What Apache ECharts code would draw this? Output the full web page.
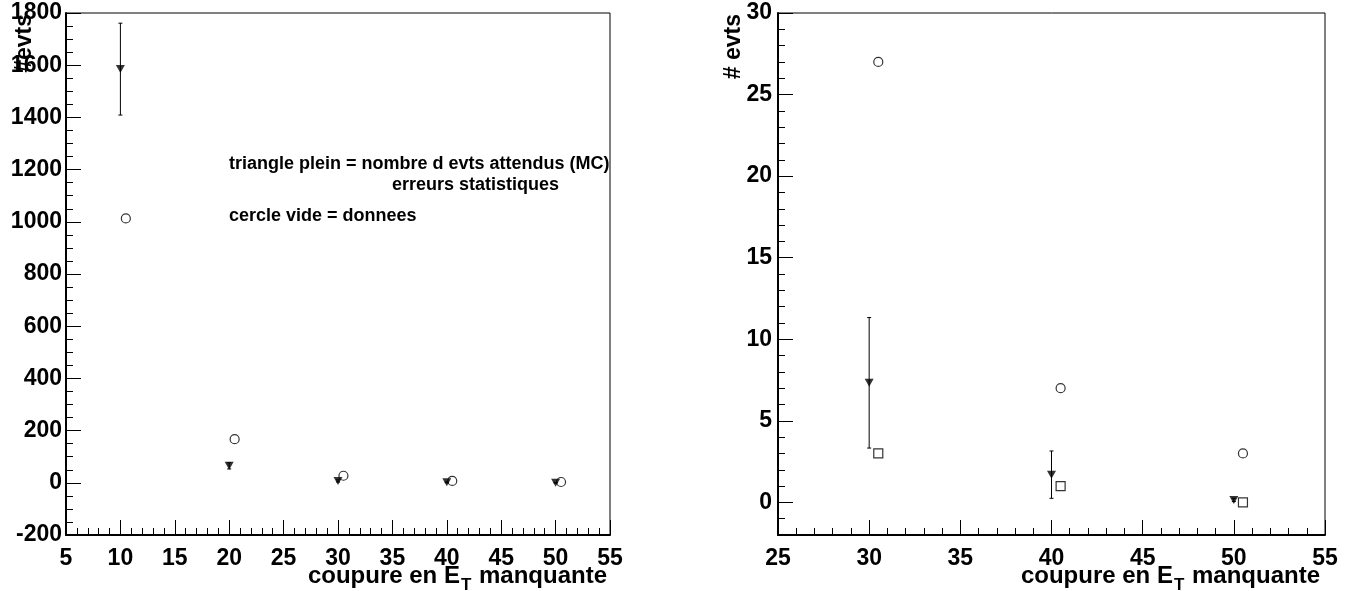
<!DOCTYPE html>
<html><head><meta charset="utf-8">
<script src="https://cdn.jsdelivr.net/npm/echarts@6/dist/echarts.min.js"></script>
<style>html,body{margin:0;padding:0;background:#fff}#c{width:1352px;height:591px}</style>
</head><body><div id="c"></div>
<script>
// ---- data ----
const leftMcX = [10, 20, 30, 40, 50];
const leftMcY = [1585, 65, 7.3, 1.7, 0.15];
const leftMcErr = [176, 12, 4.0, 1.45, 0.1];
const leftDataX = [10.5, 20.5, 30.5, 40.5, 50.5];
const leftDataY = [1013, 167, 27, 7, 3];

const rightMcX = [30, 40, 50];
const rightMcY = [7.33, 1.7, 0.15];
const rightMcErr = [4.0, 1.45, 0.1];
const rightDataX = [30.5, 40.5, 50.5];
const rightDataY = [27, 7, 3];
const rightSqX = [30.5, 40.5, 50.5];
const rightSqY = [3, 1, 0];

const rightMajorY = [0, 5, 10, 15, 20, 25, 30];

const xTitle = 'coupure en E';
const xTitleSub = 'T';
const xTitleEnd = ' manquante';
const leftYTitle = '#evts';
const rightYTitle = '# evts';
const note1 = 'triangle plein = nombre d evts attendus (MC)';
const note2 = 'erreurs statistiques';
const note3 = 'cercle vide = donnees';

// ---- build ----
const FONT = '"Liberation Sans", Arial, Helvetica, sans-serif';
const zip = (a, b) => a.map((v, i) => [v, b[i]]);
const zip3 = (a, b, c) => a.map((v, i) => [v, b[i], c[i]]);
const plain = v => String(v);

const G0 = {left: 66, top: 13, width: 544, height: 522};
const G1 = {left: 778, top: 13, width: 547, height: 522};
const LABEL = {color: '#000', fontSize: 23, fontWeight: 'bold', fontFamily: FONT, formatter: plain};

function xAxisCfg(gi, min, max) {
  return {
    type: 'value', gridIndex: gi, min: min, max: max, interval: 5,
    axisLine: {show: true, onZero: false, lineStyle: {color: '#000', width: 2}},
    axisTick: {show: true, inside: true, length: 15, lineStyle: {color: '#000', width: 1}},
    minorTick: {show: true, splitNumber: 5, length: 7, lineStyle: {color: '#000', width: 1}},
    axisLabel: Object.assign({margin: 12}, LABEL),
    splitLine: {show: false}, minorSplitLine: {show: false}
  };
}

function errRender(params, api) {
  const x = api.value(0), y = api.value(1), e = api.value(2);
  const t = api.coord([x, y + e]), b = api.coord([x, y - e]);
  const w = 2;
  const st = {stroke: '#000', lineWidth: 1};
  return {type: 'group', children: [
    {type: 'line', shape: {x1: t[0], y1: t[1], x2: b[0], y2: b[1]}, style: st},
    {type: 'line', shape: {x1: t[0] - w, y1: t[1], x2: t[0] + w, y2: t[1]}, style: st},
    {type: 'line', shape: {x1: b[0] - w, y1: b[1], x2: b[0] + w, y2: b[1]}, style: st}
  ]};
}

const triStyle = {symbol: 'triangle', symbolRotate: 180, symbolSize: [9, 8], itemStyle: {color: '#000'}};
const circStyle = {symbol: 'circle', symbolSize: 9, itemStyle: {color: 'rgba(0,0,0,0)', borderColor: '#000', borderWidth: 1.2}};
const sqStyle = {symbol: 'rect', symbolSize: 9, itemStyle: {color: 'rgba(0,0,0,0)', borderColor: '#000', borderWidth: 1.2}};

function titleRich(x, y) {
  return {
    type: 'text', x: x, y: y, z: 10,
    style: {
      text: '{a|' + xTitle + '}{s|' + xTitleSub + '}{a|' + xTitleEnd + '}',
      align: 'right', verticalAlign: 'bottom',
      rich: {
        a: {fontSize: 24, fontWeight: 'bold', fontFamily: FONT, fill: '#000', lineHeight: 26},
        s: {fontSize: 17, fontWeight: 'bold', fontFamily: FONT, fill: '#000', padding: [18, 1, 0, 1], lineHeight: 26}
      }
    }
  };
}

const noteStyle = {align: 'left', verticalAlign: 'middle', fontSize: 18, fontWeight: 'bold', fontFamily: FONT, fill: '#000'};

const option = {
  animation: false,
  backgroundColor: '#fff',
  grid: [
    Object.assign({show: true, borderColor: '#000', borderWidth: 1, backgroundColor: 'transparent'}, G0),
    Object.assign({show: true, borderColor: '#000', borderWidth: 1, backgroundColor: 'transparent'}, G1)
  ],
  xAxis: [xAxisCfg(0, 5, 55), xAxisCfg(1, 25, 55)],
  yAxis: [
    {
      type: 'value', gridIndex: 0, position: 'left', min: -200, max: 1800, interval: 200,
      axisLine: {show: true, onZero: false, lineStyle: {color: '#000', width: 2}},
      axisTick: {show: true, inside: true, length: 15, lineStyle: {color: '#000'}},
      minorTick: {show: true, splitNumber: 4, length: 7, lineStyle: {color: '#000'}},
      axisLabel: Object.assign({margin: 4}, LABEL),
      splitLine: {show: false}
    },
    {
      type: 'value', gridIndex: 1, position: 'left', min: -2, max: 30, interval: 1,
      axisLine: {show: true, onZero: false, lineStyle: {color: '#000', width: 2}},
      axisTick: {show: true, inside: true, length: 7, lineStyle: {color: '#000'}},
      axisLabel: Object.assign({margin: 6, customValues: rightMajorY}, LABEL),
      splitLine: {show: false}
    },
    {
      type: 'value', gridIndex: 1, position: 'left', offset: 0, min: -2, max: 30, interval: 1,
      axisLine: {show: false},
      axisTick: {show: true, inside: true, length: 15, lineStyle: {color: '#000'}, customValues: rightMajorY},
      axisLabel: {show: false},
      splitLine: {show: false}
    }
  ],
  series: [
    {type: 'custom', xAxisIndex: 0, yAxisIndex: 0, renderItem: errRender, data: zip3(leftMcX, leftMcY, leftMcErr), encode: {x: 0, y: 1}, z: 2},
    Object.assign({type: 'scatter', xAxisIndex: 0, yAxisIndex: 0, data: zip(leftMcX, leftMcY), z: 3}, triStyle),
    Object.assign({type: 'scatter', xAxisIndex: 0, yAxisIndex: 0, data: zip(leftDataX, leftDataY), z: 4}, circStyle),
    {type: 'custom', xAxisIndex: 1, yAxisIndex: 1, renderItem: errRender, data: zip3(rightMcX, rightMcY, rightMcErr), encode: {x: 0, y: 1}, z: 2},
    Object.assign({type: 'scatter', xAxisIndex: 1, yAxisIndex: 1, data: zip(rightMcX, rightMcY), z: 3}, triStyle),
    Object.assign({type: 'scatter', xAxisIndex: 1, yAxisIndex: 1, data: zip(rightDataX, rightDataY), z: 4}, circStyle),
    Object.assign({type: 'scatter', xAxisIndex: 1, yAxisIndex: 1, data: zip(rightSqX, rightSqY), z: 4}, sqStyle)
  ],
  graphic: [
    titleRich(G0.left + G0.width - 3, 589),
    titleRich(G1.left + G1.width - 5, 589),
    {type: 'text', x: 25, y: 14, rotation: Math.PI / 2, z: 10,
      style: {text: leftYTitle, align: 'right', verticalAlign: 'middle', fontSize: 23, fontWeight: 'bold', fontFamily: FONT, fill: '#000'}},
    {type: 'text', x: 734, y: 14, rotation: Math.PI / 2, z: 10,
      style: {text: rightYTitle, align: 'right', verticalAlign: 'middle', fontSize: 23, fontWeight: 'bold', fontFamily: FONT, fill: '#000'}},
    {type: 'text', x: 229, y: 164, z: 10, style: Object.assign({text: note1}, noteStyle)},
    {type: 'text', x: 392, y: 185, z: 10, style: Object.assign({text: note2}, noteStyle)},
    {type: 'text', x: 229, y: 216, z: 10, style: Object.assign({text: note3}, noteStyle)}
  ]
};

const chart = echarts.init(document.getElementById('c'), null, {renderer: 'canvas'});
chart.setOption(option);
</script>
</body></html>
